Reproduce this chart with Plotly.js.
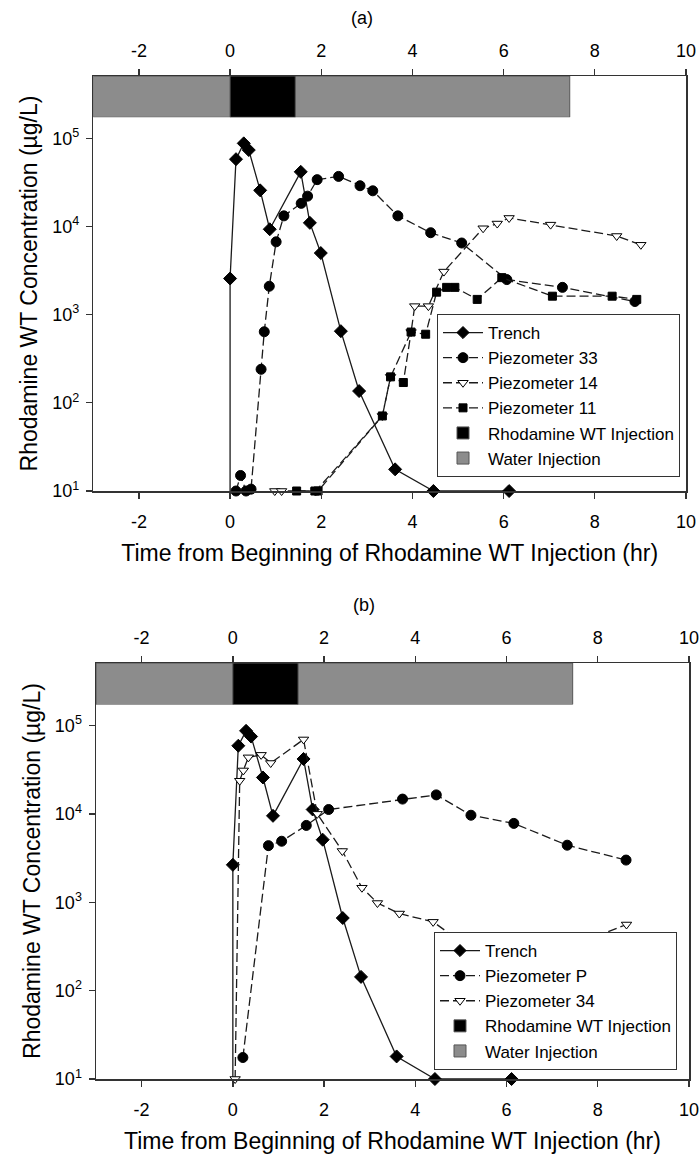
<!DOCTYPE html>
<html><head><meta charset="utf-8">
<script src="https://cdn.plot.ly/plotly-3.0.1.min.js"></script>
<style>body{margin:0;background:#fff;} #chart{width:700px;height:1160px;}</style>
</head><body><div id="chart"></div>
<script>
// ---------- Panel (a) data ----------
const trenchA_x = [0, 0, 0.13, 0.30, 0.41, 0.66, 0.87, 1.55, 1.75, 1.99, 2.43, 2.83, 3.62, 4.46, 6.12];
const trenchA_y = [10, 2570, 58000, 87700, 73600, 25700, 9300, 41700, 11000, 5000, 650, 136, 17.6, 10, 10];
const pz33_x = [0.13, 0.23, 0.35, 0.46, 0.68, 0.75, 0.86, 1.01, 1.18, 1.56, 1.70, 1.91, 2.38, 2.85, 3.13, 3.68, 4.40, 5.08, 6.07, 7.29, 8.88];
const pz33_y = [10, 15, 10, 10.5, 240, 640, 2100, 6700, 13200, 18300, 22100, 34000, 37000, 29000, 25400, 13200, 8500, 6500, 2500, 2040, 1410];
const pz14_x = [0.98, 1.13, 1.88, 3.34, 3.52, 3.97, 4.05, 4.35, 4.69, 5.55, 5.86, 6.12, 7.03, 8.48, 9.01];
const pz14_y = [10, 10, 10, 71, 197, 635, 1250, 1250, 3080, 9550, 10800, 12500, 10500, 7800, 6200];
const pz11_x = [1.46, 1.86, 1.93, 3.34, 3.52, 3.80, 3.97, 4.29, 4.53, 4.75, 4.93, 5.42, 5.96, 7.07, 8.38, 8.92];
const pz11_y = [10, 10, 10, 71, 197, 170, 635, 600, 1800, 2040, 2040, 1490, 2630, 1620, 1620, 1490];

// ---------- Panel (b) data ----------
const trenchB_x = [0, 0, 0.12, 0.29, 0.40, 0.66, 0.88, 1.55, 1.75, 1.97, 2.41, 2.81, 3.59, 4.43, 6.11];
const trenchB_y = [10, 2650, 59000, 87000, 75000, 25800, 9500, 41800, 11200, 5100, 663, 143, 18, 10, 10];
const pzP_x = [0.22, 0.78, 1.07, 1.61, 2.10, 3.72, 4.46, 5.22, 6.16, 7.33, 8.62];
const pzP_y = [17.5, 4370, 4900, 7400, 11200, 14700, 16400, 9650, 7800, 4420, 3000];
const pz34_x = [0.05, 0.15, 0.23, 0.34, 0.62, 0.83, 1.55, 1.85, 2.40, 2.83, 3.17, 3.65, 4.39, 5.09, 6.11, 7.26, 8.63];
const pz34_y = [10, 23700, 31000, 43600, 46500, 37600, 69500, 10000, 3800, 1460, 980, 745, 600, 330, 370, 295, 560];

// ---------- Injection periods (hr) ----------
const injNames = ['Rhodamine WT Injection', 'Water Injection'];
const injStart = [0, -3];
const injEnd = [1.43, 7.45];

// ---------- Axis ticks ----------
const xTicks = [-2, 0, 2, 4, 6, 8, 10];
const xTickText = ['-2', '0', '2', '4', '6', '8', '10'];
const yTickVals = [10, 100, 1000, 10000, 100000];
const yTickText = ['10<sup>1</sup>', '10<sup>2</sup>', '10<sup>3</sup>', '10<sup>4</sup>', '10<sup>5</sup>'];
const xTitle = 'Time from Beginning of Rhodamine WT Injection (hr)';
const yTitle = 'Rhodamine WT Concentration (µg/L)';

const FONT = 'Liberation Sans, Arial, sans-serif';
const LINE = '#1a1a1a';
const DASH = '9px,4px';

function series(name, xs, ys, sym, fill, size, dash, xa, ya, legend, rank, hideFirst) {
  return {
    type: 'scatter', mode: 'lines+markers', name: name, x: xs, y: ys,
    xaxis: xa, yaxis: ya, legend: legend, legendrank: rank,
    line: {color: LINE, width: 1.3, dash: dash},
    marker: {symbol: sym, color: fill, opacity: 1,
             size: hideFirst ? xs.map((v, i) => i === 0 ? 0 : size) : size,
             line: {color: '#000', width: 1}},
    cliponaxis: false
  };
}
function bars(xa, ya, legend) {
  const cols = ['#000000', '#8c8c8c'];
  const out = [];
  [1, 0].forEach(i => {
    out.push({
      type: 'bar', orientation: 'h', name: injNames[i],
      y: [0], x: [injEnd[i] - injStart[i]], base: [injStart[i]], width: [1],
      xaxis: xa, yaxis: ya, legend: legend, legendrank: 10 + i,
      marker: {color: cols[i], line: {color: '#555', width: 1}},
      hoverinfo: 'skip'
    });
  });
  return out;
}
// invisible carrier so the top (secondary) time axis is drawn
function topCarrier(xs, ys, xa, ya) {
  return {type: 'scatter', mode: 'markers', x: xs, y: ys, xaxis: xa, yaxis: ya,
    marker: {opacity: 0, size: 1}, showlegend: false, hoverinfo: 'skip'};
}

const data = [
  ...bars('x', 'y2', 'legend'),
  series('Trench', trenchA_x, trenchA_y, 'diamond', '#000', 10, 'solid', 'x', 'y', 'legend', 1, true),
  series('Piezometer 33', pz33_x, pz33_y, 'circle', '#000', 10, DASH, 'x', 'y', 'legend', 2, false),
  series('Piezometer 14', pz14_x, pz14_y, 'triangle-down', '#fff', 9, DASH, 'x', 'y', 'legend', 3, false),
  series('Piezometer 11', pz11_x, pz11_y, 'square', '#000', 8, DASH, 'x', 'y', 'legend', 4, false),
  topCarrier(trenchA_x, trenchA_y, 'x2', 'y'),
  ...bars('x3', 'y4', 'legend2'),
  series('Trench', trenchB_x, trenchB_y, 'diamond', '#000', 10, 'solid', 'x3', 'y3', 'legend2', 1, true),
  series('Piezometer P', pzP_x, pzP_y, 'circle', '#000', 10, DASH, 'x3', 'y3', 'legend2', 2, false),
  series('Piezometer 34', pz34_x, pz34_y, 'triangle-down', '#fff', 9, DASH, 'x3', 'y3', 'legend2', 3, false),
  topCarrier(trenchB_x, trenchB_y, 'x4', 'y3')
];

const H = 1160, W = 700;
const px = v => v / W, py = v => 1 - v / H;
const axisCommon = {
  range: [-3, 10], tickvals: xTicks, ticktext: xTickText, ticks: 'outside', ticklen: 6, tickwidth: 1.3, tickcolor: '#333',
  showline: true, linecolor: '#333', linewidth: 1.5, showgrid: false, zeroline: false,
  tickfont: {family: FONT, size: 18, color: '#000'}, ticklabelstandoff: 8
};
function bottomX(dom, anchor) {
  return Object.assign({}, axisCommon, {domain: dom, anchor: anchor,
    title: {text: xTitle, font: {family: FONT, size: 23, color: '#000'}, standoff: 14}});
}
function topX(over, anchor) {
  return Object.assign({}, axisCommon, {overlaying: over, side: 'top', anchor: anchor, ticklabelstandoff: 4});
}
function mainY(dom, anchor) {
  return {domain: dom, anchor: anchor, type: 'log', range: [1, 5.707],
    tickvals: yTickVals, ticktext: yTickText, ticks: 'outside', ticklen: 6, tickwidth: 1.3, tickcolor: '#333',
    showline: true, mirror: true, linecolor: '#333', linewidth: 1.5, showgrid: false, zeroline: false,
    tickfont: {family: FONT, size: 18, color: '#000'}, ticklabelstandoff: 3,
    title: {text: yTitle, font: {family: FONT, size: 23, color: '#000'}, standoff: 8}};
}
function barY(dom, anchor) {
  return {domain: dom, anchor: anchor, range: [-0.5, 0.5], visible: false, fixedrange: true};
}
function legendAt(xr, yb) {
  return {x: xr, y: yb, xanchor: 'right', yanchor: 'bottom', bgcolor: '#fff',
    bordercolor: '#333', borderwidth: 1, font: {family: FONT, size: 17, color: '#000'},
    tracegroupgap: 0, itemwidth: 40, traceorder: 'normal'};
}

const layout = {
  width: W, height: H, margin: {l: 0, r: 0, t: 0, b: 0},
  paper_bgcolor: '#fff', plot_bgcolor: 'rgba(0,0,0,0)',
  font: {family: FONT, color: '#000'},
  barmode: 'overlay', showlegend: true,
  xaxis: bottomX([px(93.3), px(686)], 'y'),
  xaxis2: topX('x', 'y'),
  yaxis: mainY([py(491), py(76)], 'x'),
  yaxis2: barY([py(117.3), py(76)], 'x'),
  xaxis3: bottomX([px(96), px(689)], 'y3'),
  xaxis4: topX('x3', 'y3'),
  yaxis3: mainY([py(1079), py(663)], 'x3'),
  yaxis4: barY([py(704.5), py(663)], 'x3'),
  legend: legendAt(px(680), py(477)),
  legend2: legendAt(px(677), py(1070)),
  annotations: [
    {text: '(a)', x: px(362), y: py(18), xref: 'paper', yref: 'paper', xanchor: 'center', yanchor: 'middle',
     showarrow: false, font: {family: FONT, size: 18, color: '#000'}},
    {text: '(b)', x: px(364), y: py(605), xref: 'paper', yref: 'paper', xanchor: 'center', yanchor: 'middle',
     showarrow: false, font: {family: FONT, size: 18, color: '#000'}}
  ]
};

Plotly.newPlot('chart', data, layout, {staticPlot: true});
</script>
</body></html>
